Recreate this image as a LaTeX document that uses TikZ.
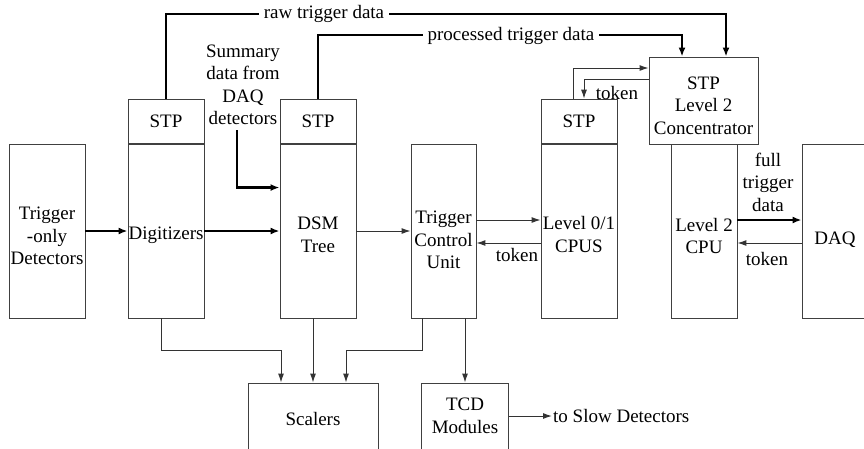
\documentclass[tikz,border=0pt]{standalone}
\usepackage{fontspec}
\setmainfont{Liberation Serif}
\usetikzlibrary{arrows.meta}

\begin{document}
\begin{tikzpicture}
	[x=1pt,y=-1pt,
	font=\fontsize{19}{22.5}\selectfont,
	blk/.style={draw=black!75,line width=0.9pt,inner sep=0pt,align=center,minimum width=76pt,minimum height=174pt},
	stpbox/.style={blk,minimum height=44pt},
	lbl/.style={inner sep=1pt,align=center},
	flow/.style={draw=black!80,line width=1pt,-{Latex[length=9pt,width=6pt]}},
	bigflow/.style={draw=black,line width=2.6pt,-{Latex[length=9pt,width=7pt]}}]
	\useasboundingbox (0,0) rectangle (864,448);
	\clip (0,0) rectangle (864,448);

	\node[blk,text height=68pt] (det) at (47,231) {Trigger\\-only\\Detectors};
	\node[blk,text height=21pt] (dig) at (166,231) {Digitizers};
	\node[blk,text height=42.5pt] (dsm) at (318,231) {DSM\\Tree};
	\node[blk,text height=76pt,minimum width=65pt] (tcu) at (443.5,231) {Trigger\\Control\\Unit};
	\node[blk,text height=42.5pt] (l01) at (579,231) {Level 0/1\\CPUS};
	\node[blk,text height=45.5pt,minimum width=66pt] (l2) at (704,231) {Level 2\\CPU};
	\node[blk,text height=31pt,minimum width=66pt] (daq) at (835,231) {DAQ};
	\node[blk,text height=68pt,minimum width=109pt,minimum height=87pt] (conc) at (703.5,100.5) {STP\\Level 2\\Concentrator};
	\node[blk,text height=19pt,minimum width=130pt,minimum height=66pt] (scal) at (313,416) {Scalers};
	\node[blk,minimum width=87pt,minimum height=66pt] (tcd) at (465,416) {TCD\\Modules};
	\foreach \b/\s in {dig/stpA,dsm/stpB,l01/stpC}
	{
		\node[stpbox,anchor=south] (\s) at (\b.north) {STP};
	}

	\node[lbl] (summ) at (243,85) {Summary\\data from\\DAQ\\detectors};
	\node[lbl] (full) at (768,182) {full\\trigger\\data};
	\node[lbl] (tokA) at (517,255) {token};
	\node[lbl] (tokB) at (767,259) {token};
	\node[lbl] (tokC) at (617,93) {token};
	\node[lbl,anchor=west] (slow) at (552,416) {to Slow Detectors};

	\coordinate (rawtop) at (726,14);
	\coordinate (proctop) at (682,35);
	\coordinate (sa) at ([xshift=-32pt]scal.north);
	\coordinate (sb) at ([xshift=33pt]scal.north);

	\draw[bigflow] (det) -- (dig);
	\draw[bigflow] (dig) -- (dsm);
	\draw[bigflow] ([xshift=-6pt,yshift=-4pt]summ.south) |- ([yshift=-44pt]dsm.north west);
	\draw[bigflow] (stpA.north) |- (rawtop) -- (rawtop |- conc.north);
	\draw[bigflow] (stpB.north) |- (proctop) -- (proctop |- conc.north);
	\node[lbl,fill=white,inner sep=5pt] (raw) at (324,14) {raw trigger data};
	\node[lbl,fill=white,inner sep=5pt] (proc) at (511,36) {processed trigger data};

	\draw[flow] (dsm) -- (tcu);
	\draw[flow] ([yshift=11pt]tcu.east) -- ([yshift=11pt]l01.west);
	\draw[flow] ([yshift=-12pt]l01.west) -- ([yshift=-12pt]tcu.east);
	\draw[bigflow] ([yshift=11pt]l2.east) -- ([yshift=11pt]daq.west);
	\draw[flow] ([yshift=-12pt]daq.west) -- ([yshift=-12pt]l2.east);
	\draw[flow] ([xshift=-6pt]stpC.north) |- ([yshift=32.5pt]conc.west);
	\draw[flow] ([yshift=21.5pt]conc.west) -| ([xshift=5pt]stpC.north);

	\draw[flow] ([xshift=-5pt]dig.south) |- ([yshift=32pt]sa) -- (sa);
	\draw[flow] ([xshift=-5pt]dsm.south) -- (scal.north);
	\draw[flow] ([xshift=-21.5pt]tcu.south) |- ([yshift=32pt]sb) -- (sb);
	\draw[flow] ([xshift=21.5pt]tcu.south) -- (tcd.north);
	\draw[flow] (tcd.east) -- (slow.west);
\end{tikzpicture}
\end{document}
